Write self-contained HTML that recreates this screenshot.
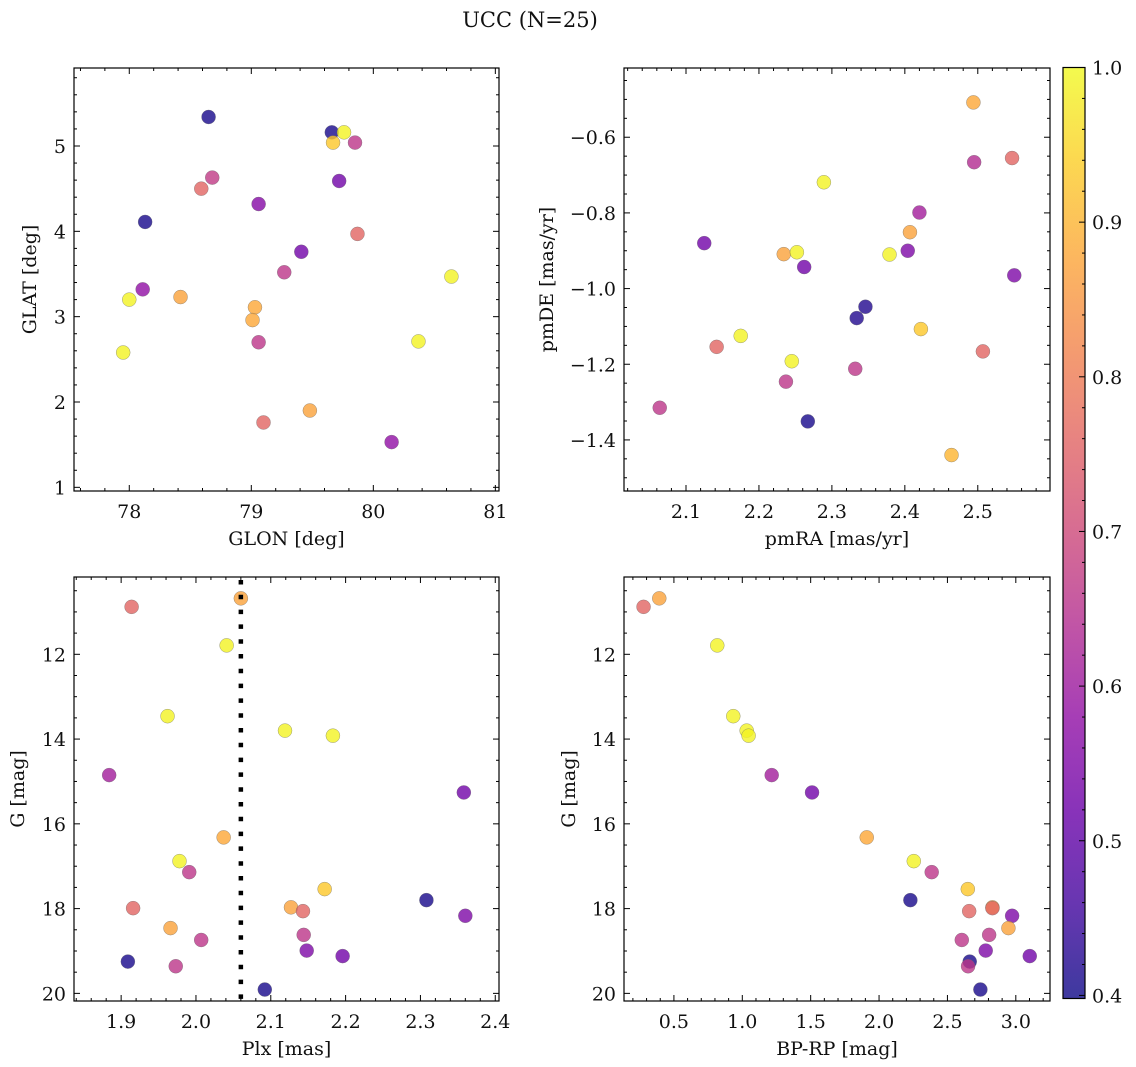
<!DOCTYPE html>
<html><head><meta charset="utf-8">
<style>
html,body{margin:0;padding:0;background:#fff;}
svg{display:block;font-family:"DejaVu Serif","Liberation Serif",serif;}
</style></head>
<body>
<svg id="fig" width="1136" height="1067" viewBox="0 0 1136 1067" xmlns="http://www.w3.org/2000/svg">
<rect width="1136" height="1067" fill="#fff"/>
<text x="530" y="27" font-size="21" text-anchor="middle" fill="#111">UCC (N=25)</text>
</svg>
<script>
// ---- Data ----
// Panel 1: GLON vs GLAT
const glonVals = [78.65,78.13,78.59,78.68,79.06,78.11,78.00,77.95,78.42,79.03,79.01,79.06,79.27,79.41,79.10,79.48,79.66,79.76,79.67,79.85,79.72,79.87,80.15,80.37,80.64];
const glatVals = [5.34,4.11,4.50,4.63,4.32,3.32,3.20,2.58,3.23,3.11,2.96,2.70,3.52,3.76,1.76,1.90,5.16,5.16,5.04,5.04,4.59,3.97,1.53,2.71,3.47];
const glatProb = [0.41,0.41,0.76,0.67,0.56,0.58,0.99,0.99,0.87,0.88,0.88,0.66,0.66,0.53,0.76,0.87,0.41,0.99,0.93,0.66,0.53,0.76,0.58,0.99,0.99];
// Panel 2: pmRA vs pmDE
const pmraVals = [2.064,2.125,2.142,2.175,2.234,2.252,2.262,2.237,2.245,2.267,2.289,2.334,2.346,2.332,2.379,2.404,2.407,2.420,2.422,2.464,2.494,2.495,2.507,2.547,2.550];
const pmdeVals = [-1.315,-0.880,-1.154,-1.125,-0.909,-0.904,-0.943,-1.246,-1.192,-1.351,-0.719,-1.078,-1.048,-1.212,-0.910,-0.900,-0.851,-0.799,-1.107,-1.440,-0.508,-0.666,-1.166,-0.655,-0.965];
const pmProb = [0.66,0.53,0.76,0.99,0.87,0.99,0.53,0.66,0.99,0.41,0.99,0.42,0.42,0.66,0.99,0.55,0.87,0.61,0.93,0.90,0.88,0.64,0.76,0.76,0.55];
// Panels 3 & 4: Plx, BP-RP vs G
const plxVals  = [1.914,2.060,2.041,1.962,2.119,2.183,1.884,2.358,2.037,1.978,1.991,2.172,2.308,2.127,2.143,1.916,2.360,1.966,2.007,2.144,2.148,2.196,1.909,1.973,2.092];
const bprpVals = [0.278,0.393,0.817,0.934,1.032,1.046,1.215,1.510,1.910,2.254,2.385,2.649,2.229,2.829,2.659,2.829,2.973,2.946,2.605,2.805,2.780,3.102,2.663,2.651,2.741];
const gmagVals = [10.88,10.68,11.79,13.46,13.80,13.92,14.85,15.26,16.32,16.88,17.14,17.54,17.80,17.97,18.06,17.99,18.17,18.46,18.74,18.62,18.99,19.12,19.25,19.36,19.91];
const cmdProb  = [0.76,0.87,0.99,0.99,0.99,0.99,0.61,0.53,0.88,0.99,0.66,0.93,0.41,0.87,0.76,0.76,0.55,0.87,0.66,0.66,0.55,0.53,0.41,0.66,0.41];
const plxLine = 2.06;
// Tick labels
const t1x=[78,79,80,81], t1y=[1,2,3,4,5];
const t2x=[2.1,2.2,2.3,2.4,2.5], t2y=[-1.4,-1.2,-1.0,-0.8,-0.6];
const t3x=[1.9,2.0,2.1,2.2,2.3,2.4], tGy=[12,14,16,18,20];
const t4x=[0.5,1.0,1.5,2.0,2.5,3.0];
const cbTicks=[0.4,0.5,0.6,0.7,0.8,0.9,1.0];

const NS="http://www.w3.org/2000/svg";
const svg=document.getElementById('fig');
function mk(tag,attrs,parent){const e=document.createElementNS(NS,tag);for(const k in attrs)e.setAttribute(k,attrs[k]);(parent||svg).appendChild(e);return e;}

const stops=[[13,8,135],[65,4,157],[106,0,168],[143,13,164],[177,42,144],[204,71,120],[225,100,98],[242,132,75],[252,166,54],[252,206,37],[240,249,33]];
const vmin=0.398,vmax=1.0;
function plasma(t){t=Math.max(0,Math.min(1,t));const f=t*10,i=Math.min(9,Math.floor(f)),r=f-i;const a=stops[i],b=stops[i+1];
 return 'rgb('+[0,1,2].map(k=>Math.round(a[k]+(b[k]-a[k])*r)).join(',')+')';}
function col(v){return plasma((v-vmin)/(vmax-vmin));}
function fmt(v,d){return (v<0?'\u2212':'')+Math.abs(v).toFixed(d);}
const FS=19;

function panel(name,box,xr,yr,xt,yt,xd,yd,xminor,yminor,xlabel,ylabel,ylabX,invertY){
 const g=mk('g',{});
 
 
 const sx=v=>box.x0+(v-xr[0])/(xr[1]-xr[0])*(box.x1-box.x0);
 const sy=invertY? (v=>box.y0+(v-yr[0])/(yr[1]-yr[0])*(box.y1-box.y0)) : (v=>box.y1-(v-yr[0])/(yr[1]-yr[0])*(box.y1-box.y0));
 const tk=mk('g',{stroke:'#000','stroke-width':1},g);
 
 
 const lo=Math.min(xr[0],xr[1]),hi=Math.max(xr[0],xr[1]);
 for(let v=Math.ceil(lo/xminor-1e-6)*xminor;v<=hi+1e-9;v+=xminor){
  const maj=xt.some(t=>Math.abs(t-v)<xminor/10),L=maj?6:3,x=sx(v);
  mk('line',{x1:x,x2:x,y1:box.y1,y2:box.y1-L},tk);mk('line',{x1:x,x2:x,y1:box.y0,y2:box.y0+L},tk);}
 const ylo=Math.min(yr[0],yr[1]),yhi=Math.max(yr[0],yr[1]);
 for(let v=Math.ceil(ylo/yminor-1e-6)*yminor;v<=yhi+1e-9;v+=yminor){
  const maj=yt.some(t=>Math.abs(t-v)<yminor/10),L=maj?6:3,y=sy(v);
  mk('line',{y1:y,y2:y,x1:box.x0,x2:box.x0+L},tk);mk('line',{y1:y,y2:y,x1:box.x1,x2:box.x1-L},tk);}
 xt.forEach(v=>{const t=mk('text',{x:sx(v),y:box.y1+27,'font-size':FS,'text-anchor':'middle',fill:'#111'},g);t.textContent=fmt(v,xd);
  });
 yt.forEach(v=>{const t=mk('text',{x:box.x0-8,y:sy(v)+7,'font-size':FS,'text-anchor':'end',fill:'#111'},g);t.textContent=fmt(v,yd);
  });
 const xl=mk('text',{x:(box.x0+box.x1)/2,y:box.y1+54,'font-size':FS,'text-anchor':'middle',fill:'#111'},g);xl.textContent=xlabel;
 
 const yc=(box.y0+box.y1)/2;
 const yl=mk('text',{x:ylabX,y:yc,'font-size':FS,'text-anchor':'middle',fill:'#111',transform:'rotate(-90 '+ylabX+' '+yc+')'},g);yl.textContent=ylabel;
 
 const fr=mk('rect',{x:box.x0,y:box.y0,width:box.x1-box.x0,height:box.y1-box.y0,fill:'none',stroke:'#000','stroke-width':1.2},g);
 
 return {g,sx,sy};
}
function scatter(p,xs,ys,cs){
 xs.forEach((xv,i)=>{const c=mk('circle',{cx:p.sx(xv),cy:p.sy(ys[i]),r:7,fill:col(cs[i]),'fill-opacity':0.8,stroke:'#666','stroke-width':0.4,'stroke-opacity':0.8},p.g);
  
  });
}

const p1=panel('panel-glon-glat',{x0:74,x1:499,y0:68,y1:491},[77.547,81.03],[0.957,5.914],t1x,t1y,0,0,0.2,0.2,'GLON [deg]','GLAT [deg]',36,false);
scatter(p1,glonVals,glatVals,glatProb);
const p2=panel('panel-pmra-pmde',{x0:624,x1:1050,y0:68,y1:491},[2.015,2.599],[-1.535,-0.417],t2x,t2y,1,1,0.02,0.05,'pmRA [mas/yr]','pmDE [mas/yr]',553,false);
scatter(p2,pmraVals,pmdeVals,pmProb);
const p3=panel('panel-plx-g',{x0:74,x1:499,y0:577,y1:1001},[1.837,2.405],[10.176,20.18],t3x,tGy,1,0,0.02,0.5,'Plx [mas]','G [mag]',24,true);
scatter(p3,plxVals,gmagVals,cmdProb);
const ln=mk('line',{x1:p3.sx(plxLine),x2:p3.sx(plxLine),y1:580,y2:1001,stroke:'#000','stroke-width':4.5,'stroke-dasharray':'4.5 10.3'},p3.g);


const p4=panel('panel-bprp-g',{x0:624,x1:1050,y0:577,y1:1001},[0.135,3.25],[10.176,20.18],t4x,tGy,1,0,0.1,0.5,'BP-RP [mag]','G [mag]',575,true);
scatter(p4,bprpVals,gmagVals,cmdProb);

// Colorbar
const cb=mk('g',{});


const defs=mk('defs',{},svg);
const lg=mk('linearGradient',{id:'cbg',x1:0,y1:1,x2:0,y2:0},defs);
for(let i=0;i<=20;i++){mk('stop',{offset:i/20,'stop-color':plasma(i/20),'stop-opacity':0.8},lg);}
const cbx0=1063,cbx1=1085,cby0=67.5,cby1=998.5;
mk('rect',{x:cbx0,y:cby0,width:cbx1-cbx0,height:cby1-cby0,fill:'url(#cbg)',stroke:'#000','stroke-width':1.2},cb);
const cy=v=>cby1-(v-vmin)/(vmax-vmin)*(cby1-cby0);
for(let v=0.40;v<=1.0001;v+=0.02){const maj=cbTicks.some(t=>Math.abs(t-v)<0.001);const y=cy(v);
 mk('line',{x1:cbx1,x2:cbx1-(maj?6:3),y1:y,y2:y,stroke:'#000','stroke-width':1},cb);}
cbTicks.forEach(v=>{const t=mk('text',{x:cbx1+7,y:cy(v)+7,'font-size':FS,fill:'#111'},cb);t.textContent=v.toFixed(1);
 });
</script>
</body></html>
